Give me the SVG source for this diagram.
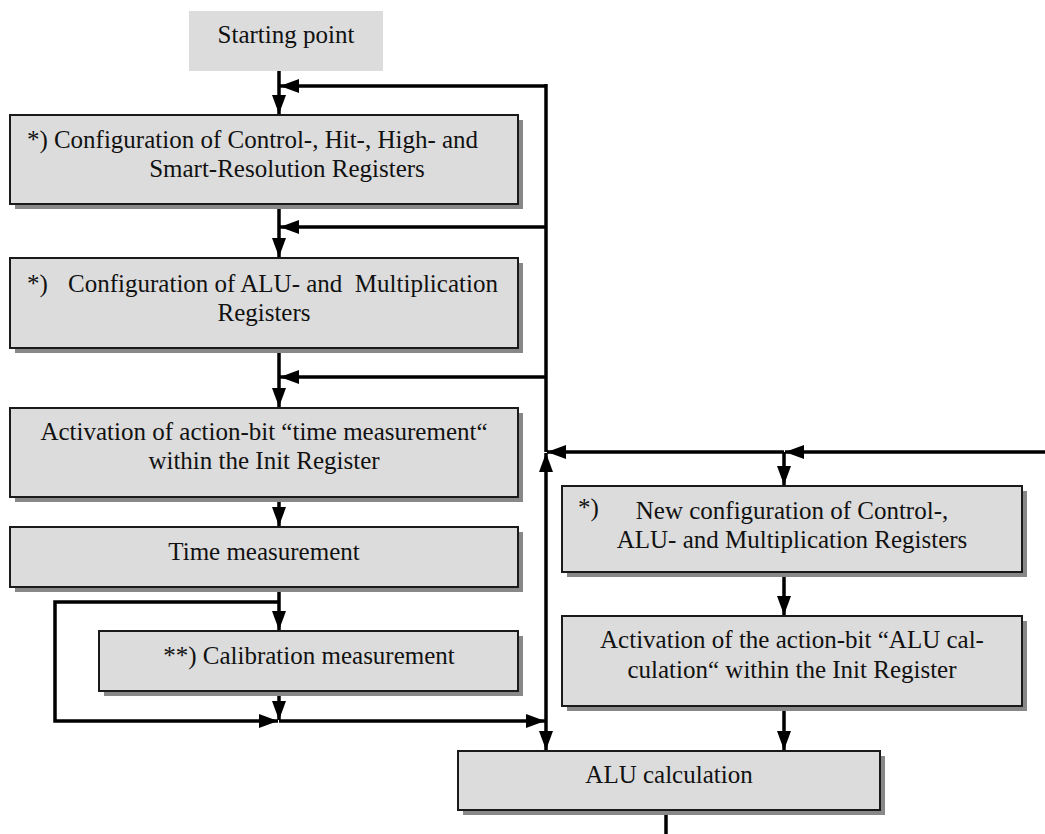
<svg xmlns="http://www.w3.org/2000/svg" width="1045" height="834" viewBox="0 0 1045 834">
<style>
.box{fill:#dcdcdc;stroke:#1a1a1a;stroke-width:2}
.sh{fill:#888888}
.t{font-family:"Liberation Serif","Times New Roman",serif;font-size:25px;fill:#111}
.m{text-anchor:middle}
.c{fill:none;stroke:#000;stroke-width:3.5}
</style>
<defs>
<marker id="ah" markerUnits="userSpaceOnUse" markerWidth="20" markerHeight="14" refX="19" refY="7" orient="auto">
<path d="M0,0 L19,7 L0,14 z" fill="#000"/>
</marker>
</defs>
<rect width="1045" height="834" fill="#fff"/>

<g id="connectors">
<path class="c" d="M279,71 V114" marker-end="url(#ah)"/>
<path class="c" d="M546,86 H280" marker-end="url(#ah)"/>
<path class="c" d="M279,204 V257" marker-end="url(#ah)"/>
<path class="c" d="M546,227 H280" marker-end="url(#ah)"/>
<path class="c" d="M279,348 V407" marker-end="url(#ah)"/>
<path class="c" d="M546,377 H280" marker-end="url(#ah)"/>
<path class="c" d="M279,497 V526" marker-end="url(#ah)"/>
<path class="c" d="M279,587 V630" marker-end="url(#ah)"/>
<path class="c" d="M279,602 H55 V721 H278" marker-end="url(#ah)"/>
<path class="c" d="M279,691 V720" marker-end="url(#ah)"/>
<path class="c" d="M279,721 H545" marker-end="url(#ah)"/>
<path class="c" d="M546,84 V452"/>
<path class="c" d="M546,721 V453" marker-end="url(#ah)"/>
<path class="c" d="M546,721 V750" marker-end="url(#ah)"/>
<path class="c" d="M1045,452 H785" marker-end="url(#ah)"/>
<path class="c" d="M784,452 H547" marker-end="url(#ah)"/>
<path class="c" d="M784,452 V485" marker-end="url(#ah)"/>
<path class="c" d="M784,572 V615" marker-end="url(#ah)"/>
<path class="c" d="M784,706 V750" marker-end="url(#ah)"/>
<path class="c" d="M666,810 V834"/>
</g>

<g id="start">
<rect x="189" y="11" width="194" height="60" fill="#dcdcdc"/>
<text class="t m" x="286" y="43">Starting point</text>
</g>

<g id="config1">
<rect class="sh" x="15" y="120" width="508" height="89"/>
<rect class="box" x="10" y="115" width="508" height="89"/>
<text class="t" x="27" y="148">*)</text>
<text class="t m" x="266" y="148">Configuration of Control-, Hit-, High- and</text>
<text class="t m" x="287" y="177">Smart-Resolution Registers</text>
</g>

<g id="config2">
<rect class="sh" x="15" y="263" width="508" height="90"/>
<rect class="box" x="10" y="258" width="508" height="90"/>
<text class="t" x="27" y="292">*)</text>
<text class="t m" x="283" y="292" xml:space="preserve">Configuration of ALU- and  Multiplication</text>
<text class="t m" x="264" y="321">Registers</text>
</g>

<g id="activation1">
<rect class="sh" x="15" y="413" width="508" height="89"/>
<rect class="box" x="10" y="408" width="508" height="89"/>
<text class="t m" x="264" y="440">Activation of action-bit “time measurement“</text>
<text class="t m" x="264" y="469">within the Init Register</text>
</g>

<g id="time">
<rect class="sh" x="15" y="532" width="508" height="60"/>
<rect class="box" x="10" y="527" width="508" height="60"/>
<text class="t m" x="264" y="560">Time measurement</text>
</g>

<g id="calib">
<rect class="sh" x="104" y="636" width="419" height="60"/>
<rect class="box" x="99" y="631" width="419" height="60"/>
<text class="t m" x="309" y="664">**) Calibration measurement</text>
</g>

<g id="newconfig">
<rect class="sh" x="567" y="491" width="460" height="86"/>
<rect class="box" x="562" y="486" width="460" height="86"/>
<text class="t" x="578" y="516">*)</text>
<text class="t m" x="792" y="519">New configuration of Control-,</text>
<text class="t m" x="792" y="548">ALU- and Multiplication Registers</text>
</g>

<g id="activation2">
<rect class="sh" x="567" y="621" width="460" height="90"/>
<rect class="box" x="562" y="616" width="460" height="90"/>
<text class="t m" x="792" y="648">Activation of the action-bit “ALU cal-</text>
<text class="t m" x="792" y="678">culation“ within the Init Register</text>
</g>

<g id="alu">
<rect class="sh" x="463" y="756" width="422" height="59"/>
<rect class="box" x="458" y="751" width="422" height="59"/>
<text class="t m" x="669" y="783">ALU calculation</text>
</g>
</svg>
